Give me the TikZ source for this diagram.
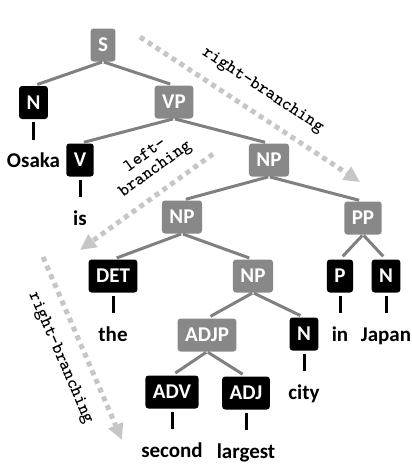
\documentclass[tikz,border=0pt]{standalone}
\usepackage{fontspec}
\usetikzlibrary{positioning}
\usetikzlibrary{arrows.meta}

\newfontfamily\treefont{Carlito}

\definecolor{phrasegray}{HTML}{888888}
\definecolor{edgegray}{HTML}{808080}
\definecolor{arrowgray}{HTML}{C6C6C6}

\tikzset{
  box/.style={rounded corners=3pt, text=white, inner xsep=7.5pt, inner ysep=0pt,
    minimum height=33pt, minimum width=24pt, font=\treefont\bfseries\fontsize{21}{21}\selectfont},
  phrase/.style={box, fill=phrasegray},
  tag/.style={box, fill=black},
  word/.style={inner sep=0pt, text height=14pt, text depth=4pt,
    font=\treefont\bfseries\fontsize{21}{21}\selectfont},
  branch/.style={draw=edgegray, line width=3pt, shorten <=1pt, shorten >=4pt},
  leaf/.style={draw=black, line width=3pt, shorten <=3pt, shorten >=14pt},
  dir/.style={draw=arrowgray, line width=5pt, dash pattern=on 5pt off 4.5pt,
    -{Triangle[length=16pt, width=15pt, fill=arrowgray]}},
  dirlabel/.style={font=\ttfamily\bfseries\fontsize{18}{17}\selectfont, inner sep=0pt}
}

\begin{document}
\begin{tikzpicture}[x=1pt, y=-1pt, node distance=34.5pt]
\useasboundingbox (0,0) rectangle (412,466);

% constituents
\node[phrase] (s)    at (103,45)  {S};
\node[tag]    (n1)   at (33.5,102.5) {N};
\node[phrase] (vp)   at (174,102) {VP};
\node[tag]    (v)    at (80,160)  {V};
\node[phrase] (np1)  at (269,160) {NP};
\node[phrase] (np2)  at (182,217) {NP};
\node[phrase] (pp)   at (363,218) {PP};
\node[tag]    (det)  at (113,276) {DET};
\node[phrase] (np3)  at (253,276) {NP};
\node[tag]    (p)    at (340,276) {P};
\node[tag]    (n2)   at (386,276) {N};
\node[phrase] (adjp) at (207,335) {ADJP};
\node[tag]    (n3)   at (304,334) {N};
\node[tag]    (adv)  at (172,392) {ADV};
\node[tag]    (adj)  at (246,393) {ADJ};

% words
\node[word, below=of n1]  (wosaka)   {Osaka};
\node[word, below=of v]   (wis)      {is};
\node[word, below=of det] (wthe)     {the};
\node[word, below=of p]   (win)      {in};
\node[word, below=of n2]  (wjapan)   {Japan};
\node[word, below=of n3]  (wcity)    {city};
\node[word, below=of adv] (wsecond)  {second};
\node[word, below=of adj] (wlargest) {largest};

% branches
\foreach \a/\b in {s/n1, s/vp, vp/v, vp/np1, np1/np2, np1/pp, np2/det, np2/np3,
                   np3/adjp, np3/n3, adjp/adv, adjp/adj, pp/p, pp/n2}
  \draw[branch] (\a.south) -- (\b.north);

\foreach \a/\b in {n1/wosaka, v/wis, det/wthe, p/win, n2/wjapan, n3/wcity,
                   adv/wsecond, adj/wlargest}
  \draw[leaf] (\a.south) -- (\b.north);

% branching directions
\coordinate (rtop0) at (140,37);
\coordinate (rtop1) at (360,182);
\coordinate (left0) at (213,154);
\coordinate (left1) at (80,250);
\coordinate (rbot0) at (43,257);
\coordinate (rbot1) at (122,440);

\draw[dir] (rtop0) -- (rtop1)
  node[dirlabel, midway, sloped, above=13pt] {right-branching};
\draw[dir] (left0) -- (left1)
  node[dirlabel, pos=0.34, sloped, above=11pt, align=center] {left-\\branching};
\draw[dir] (rbot0) -- (rbot1)
  node[dirlabel, pos=0.5, sloped, below=14pt] {right-branching};
\end{tikzpicture}
\end{document}
